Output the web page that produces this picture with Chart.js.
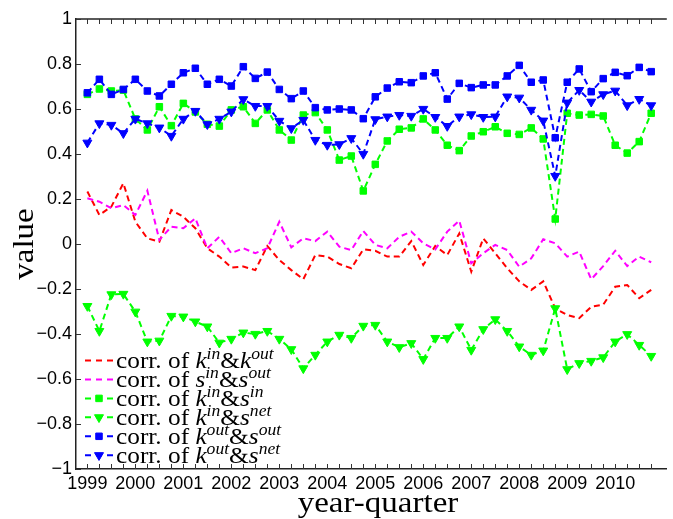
<!DOCTYPE html>
<html>
<head>
<meta charset="utf-8">
<script src="https://cdn.jsdelivr.net/npm/chart.js@4.4.1/dist/chart.umd.min.js"></script>
<style>
  html, body { margin: 0; padding: 0; background: #fff; overflow: hidden; }
  canvas { display: block; }
</style>
</head>
<body>
<canvas id="myChart" width="673" height="519"></canvas>
<script>
// years on the axis, one point per quarter
var tickYears = [1999, 2000, 2001, 2002, 2003, 2004, 2005, 2006, 2007, 2008, 2009, 2010];
var quarterOffsets = [0, 0.25, 0.5, 0.75];

var kinKout = [0.233, 0.129, 0.166, 0.27, 0.099, 0.025, 0.01, 0.151, 0.121, 0.07,
  -0.019, -0.056, -0.105, -0.10, -0.116, -0.009, -0.071, -0.116, -0.157, -0.049,
  -0.056, -0.089, -0.108, -0.024, -0.03, -0.056, -0.056, 0.013, -0.093, -0.009,
  -0.049, 0.047, -0.123, 0.025, -0.041, -0.108, -0.166, -0.204, -0.166, -0.286,
  -0.316, -0.33, -0.279, -0.27, -0.19, -0.182, -0.241, -0.204];
var sinSout = [0.203, 0.188, 0.159, 0.173, 0.129, 0.237, 0.018, 0.077, 0.07, 0.114,
  -0.019, 0.032, -0.041, -0.019, -0.041, -0.019, 0.099, -0.015, 0.025, 0.013,
  0.055, -0.012, -0.027, 0.058, -0.004, -0.019, 0.032, 0.055, 0.003, -0.024,
  0.055, 0.104, -0.086, -0.041, -0.004, -0.027, -0.101, -0.064, 0.021, 0.003,
  -0.056, -0.034, -0.157, -0.098, -0.03, -0.098, -0.056, -0.081];
var kinSin = [0.665, 0.689, 0.68, 0.684, 0.556, 0.507, 0.61, 0.526, 0.625, 0.587,
  0.532, 0.524, 0.596, 0.61, 0.536, 0.596, 0.507, 0.462, 0.573, 0.584,
  0.507, 0.373, 0.391, 0.236, 0.354, 0.458, 0.51, 0.516, 0.556, 0.507,
  0.439, 0.415, 0.48, 0.499, 0.521, 0.492, 0.487, 0.516, 0.467, 0.111,
  0.581, 0.573, 0.576, 0.569, 0.439, 0.404, 0.455, 0.581];
var kinSnet = [-0.276, -0.387, -0.224, -0.222, -0.301, -0.434, -0.43, -0.32, -0.323, -0.345,
  -0.367, -0.439, -0.422, -0.394, -0.4, -0.387, -0.422, -0.468, -0.553, -0.493,
  -0.434, -0.404, -0.418, -0.364, -0.36, -0.434, -0.459, -0.441, -0.512, -0.418,
  -0.418, -0.367, -0.471, -0.379, -0.335, -0.387, -0.456, -0.493, -0.474, -0.286,
  -0.557, -0.53, -0.52, -0.504, -0.434, -0.401, -0.449, -0.498];
var koutSout = [0.672, 0.732, 0.665, 0.687, 0.732, 0.68, 0.658, 0.71, 0.761, 0.781,
  0.71, 0.732, 0.702, 0.788, 0.736, 0.764, 0.687, 0.646, 0.68, 0.606,
  0.596, 0.6, 0.596, 0.557, 0.654, 0.693, 0.721, 0.717, 0.747, 0.761,
  0.644, 0.714, 0.695, 0.707, 0.707, 0.747, 0.794, 0.719, 0.729, 0.472,
  0.719, 0.778, 0.677, 0.735, 0.763, 0.748, 0.785, 0.766];
var koutSnet = [0.45, 0.536, 0.529, 0.492, 0.556, 0.536, 0.517, 0.48, 0.556, 0.591,
  0.532, 0.556, 0.588, 0.643, 0.613, 0.613, 0.547, 0.514, 0.551, 0.462,
  0.44, 0.443, 0.47, 0.4, 0.554, 0.566, 0.573, 0.569, 0.6, 0.564,
  0.524, 0.566, 0.576, 0.564, 0.566, 0.655, 0.65, 0.596, 0.548, 0.302,
  0.628, 0.684, 0.632, 0.665, 0.681, 0.616, 0.644, 0.616];

var yTickLabels = ["1", "0.8", "0.6", "0.4", "0.2", "0", "\u22120.2", "\u22120.4", "\u22120.6", "\u22120.8", "\u22121"];

// legend text: r = roman, i = italic, s = italic superscript
var legendLabels = [
  [["corr. of ", "r"], ["k", "i"], ["in", "s"], ["&", "r"], ["k", "i"], ["out", "s"]],
  [["corr. of ", "r"], ["s", "i"], ["in", "s"], ["&", "r"], ["s", "i"], ["out", "s"]],
  [["corr. of ", "r"], ["k", "i"], ["in", "s"], ["&", "r"], ["s", "i"], ["in", "s"]],
  [["corr. of ", "r"], ["k", "i"], ["in", "s"], ["&", "r"], ["s", "i"], ["net", "s"]],
  [["corr. of ", "r"], ["k", "i"], ["out", "s"], ["&", "r"], ["s", "i"], ["out", "s"]],
  [["corr. of ", "r"], ["k", "i"], ["out", "s"], ["&", "r"], ["s", "i"], ["net", "s"]]
];
var seriesColors = ["#ff0000", "#ff00ff", "#00ff00", "#00ff00", "#0000ff", "#0000ff"];
var seriesMarkers = [false, false, "rect", "triangle", "rect", "triangle"];
var seriesValues = [kinKout, sinSout, kinSin, kinSnet, koutSout, koutSnet];

var quarters = [];
tickYears.forEach(function(y) {
  quarterOffsets.forEach(function(q) { quarters.push(y + q); });
});

var serif = "'Liberation Serif', 'Times New Roman', serif";
var stretch = 1.1;

function drawMarker(ctx, style, color, x, y) {
  Chart.helpers.drawPoint(ctx, {
    pointStyle: style,
    radius: style == "rect" ? 4.6 : 5.2,
    rotation: style == "triangle" ? 180 : 0,
    borderWidth: 1
  }, x, y);
}

function drawRich(ctx, segs, x, y) {
  ctx.save();
  ctx.translate(x, y);
  ctx.scale(stretch, 1);
  var cx = 0;
  segs.forEach(function(s) {
    var dy = 0;
    if (s[1] == "r") ctx.font = "23px " + serif;
    if (s[1] == "i") ctx.font = "italic 23px " + serif;
    if (s[1] == "s") { ctx.font = "italic 16px " + serif; dy = -9; }
    ctx.fillText(s[0], cx, dy);
    cx += ctx.measureText(s[0]).width;
  });
  ctx.restore();
}

var frame = {
  id: "frame",
  afterDraw: function(chart) {
    var ctx = chart.ctx;
    var a = chart.chartArea;
    var xs = chart.scales.x, ys = chart.scales.y;
    ctx.save();

    // top line and the small inward ticks
    ctx.strokeStyle = "#222";
    ctx.lineWidth = 1.5;
    ctx.beginPath();
    ctx.moveTo(a.left, a.top);
    ctx.lineTo(a.right, a.top);
    ctx.stroke();
    ctx.lineWidth = 1;
    ctx.strokeStyle = "#333";
    ctx.beginPath();
    quarters.forEach(function(q) {
      var px = Math.round(xs.getPixelForValue(q)) + 0.5;
      ctx.moveTo(px, a.bottom);
      ctx.lineTo(px, a.bottom - 5);
      ctx.moveTo(px, a.top);
      ctx.lineTo(px, a.top + 5);
    });
    ys.ticks.forEach(function(t) {
      var py = Math.round(ys.getPixelForValue(t.value)) + 0.5;
      ctx.moveTo(a.left, py);
      ctx.lineTo(a.left + 5, py);
    });
    ctx.stroke();

    // axis titles
    ctx.fillStyle = "#000";
    ctx.textAlign = "center";
    ctx.textBaseline = "alphabetic";
    ctx.font = "30px " + serif;
    ctx.save();
    ctx.translate(378, 512);
    ctx.scale(stretch, 1);
    ctx.fillText("year-quarter", 0, 0);
    ctx.restore();
    ctx.save();
    ctx.translate(33, 244);
    ctx.rotate(-Math.PI / 2);
    ctx.scale(stretch, 1);
    ctx.fillText("value", 0, 0);
    ctx.restore();

    // legend
    ctx.textAlign = "left";
    legendLabels.forEach(function(segs, i) {
      var ly = 360.5 + i * 18.95;
      ctx.save();
      ctx.strokeStyle = seriesColors[i];
      ctx.lineWidth = 2;
      ctx.setLineDash([6, 5]);
      ctx.beginPath();
      ctx.moveTo(85, ly);
      ctx.lineTo(113, ly);
      ctx.stroke();
      ctx.restore();
      if (seriesMarkers[i]) {
        ctx.fillStyle = seriesColors[i];
        ctx.strokeStyle = seriesColors[i];
        drawMarker(ctx, seriesMarkers[i], seriesColors[i], 99, ly);
      }
      ctx.fillStyle = "#000";
      drawRich(ctx, segs, 116, ly + 7.5);
    });
    ctx.restore();
  }
};

var datasets = seriesValues.map(function(vals, i) {
  return {
    label: "series " + i,
    data: vals.map(function(v, j) { return { x: quarters[j], y: v }; }),
    borderColor: seriesColors[i],
    backgroundColor: seriesColors[i],
    borderWidth: 2,
    borderDash: [6, 4],
    pointStyle: seriesMarkers[i] || "circle",
    pointRadius: seriesMarkers[i] ? (seriesMarkers[i] == "rect" ? 4.6 : 5.2) : 0,
    pointRotation: seriesMarkers[i] == "triangle" ? 180 : 0,
    pointBorderWidth: 1,
    tension: 0,
    fill: false,
    order: 6 - i
  };
});

var ctx = document.getElementById("myChart");
var chart = new Chart(ctx, {
  type: "line",
  data: { datasets: datasets },
  plugins: [frame],
  options: {
    responsive: false,
    animation: false,
    layout: { padding: { top: 19, right: 0, bottom: 0, left: 0 } },
    plugins: { legend: { display: false }, tooltip: { enabled: false } },
    scales: {
      x: {
        type: "linear",
        min: 1998.763,
        max: 2011.075,
        afterFit: function(scale) { scale.height = 50; },
        afterBuildTicks: function(scale) {
          scale.ticks = tickYears.map(function(y) { return { value: y }; });
        },
        grid: { drawOnChartArea: false, drawTicks: false },
        border: { display: true, color: "#222", width: 1.5 },
        ticks: {
          autoSkip: false,
          maxRotation: 0,
          padding: 4,
          color: "#000",
          font: { family: "'Liberation Sans', Arial, sans-serif", size: 18 },
          callback: function(v) { return String(v); }
        }
      },
      y: {
        min: -1,
        max: 1,
        afterFit: function(scale) { scale.width = 76; },
        grid: { drawOnChartArea: false, drawTicks: false },
        border: { display: true, color: "#222", width: 1.5 },
        ticks: {
          stepSize: 0.2,
          padding: 4,
          color: "#000",
          font: { family: "'Liberation Sans', Arial, sans-serif", size: 18 },
          callback: function(v, idx) { return yTickLabels[10 - idx]; }
        }
      }
    }
  }
});
</script>
</body>
</html>
